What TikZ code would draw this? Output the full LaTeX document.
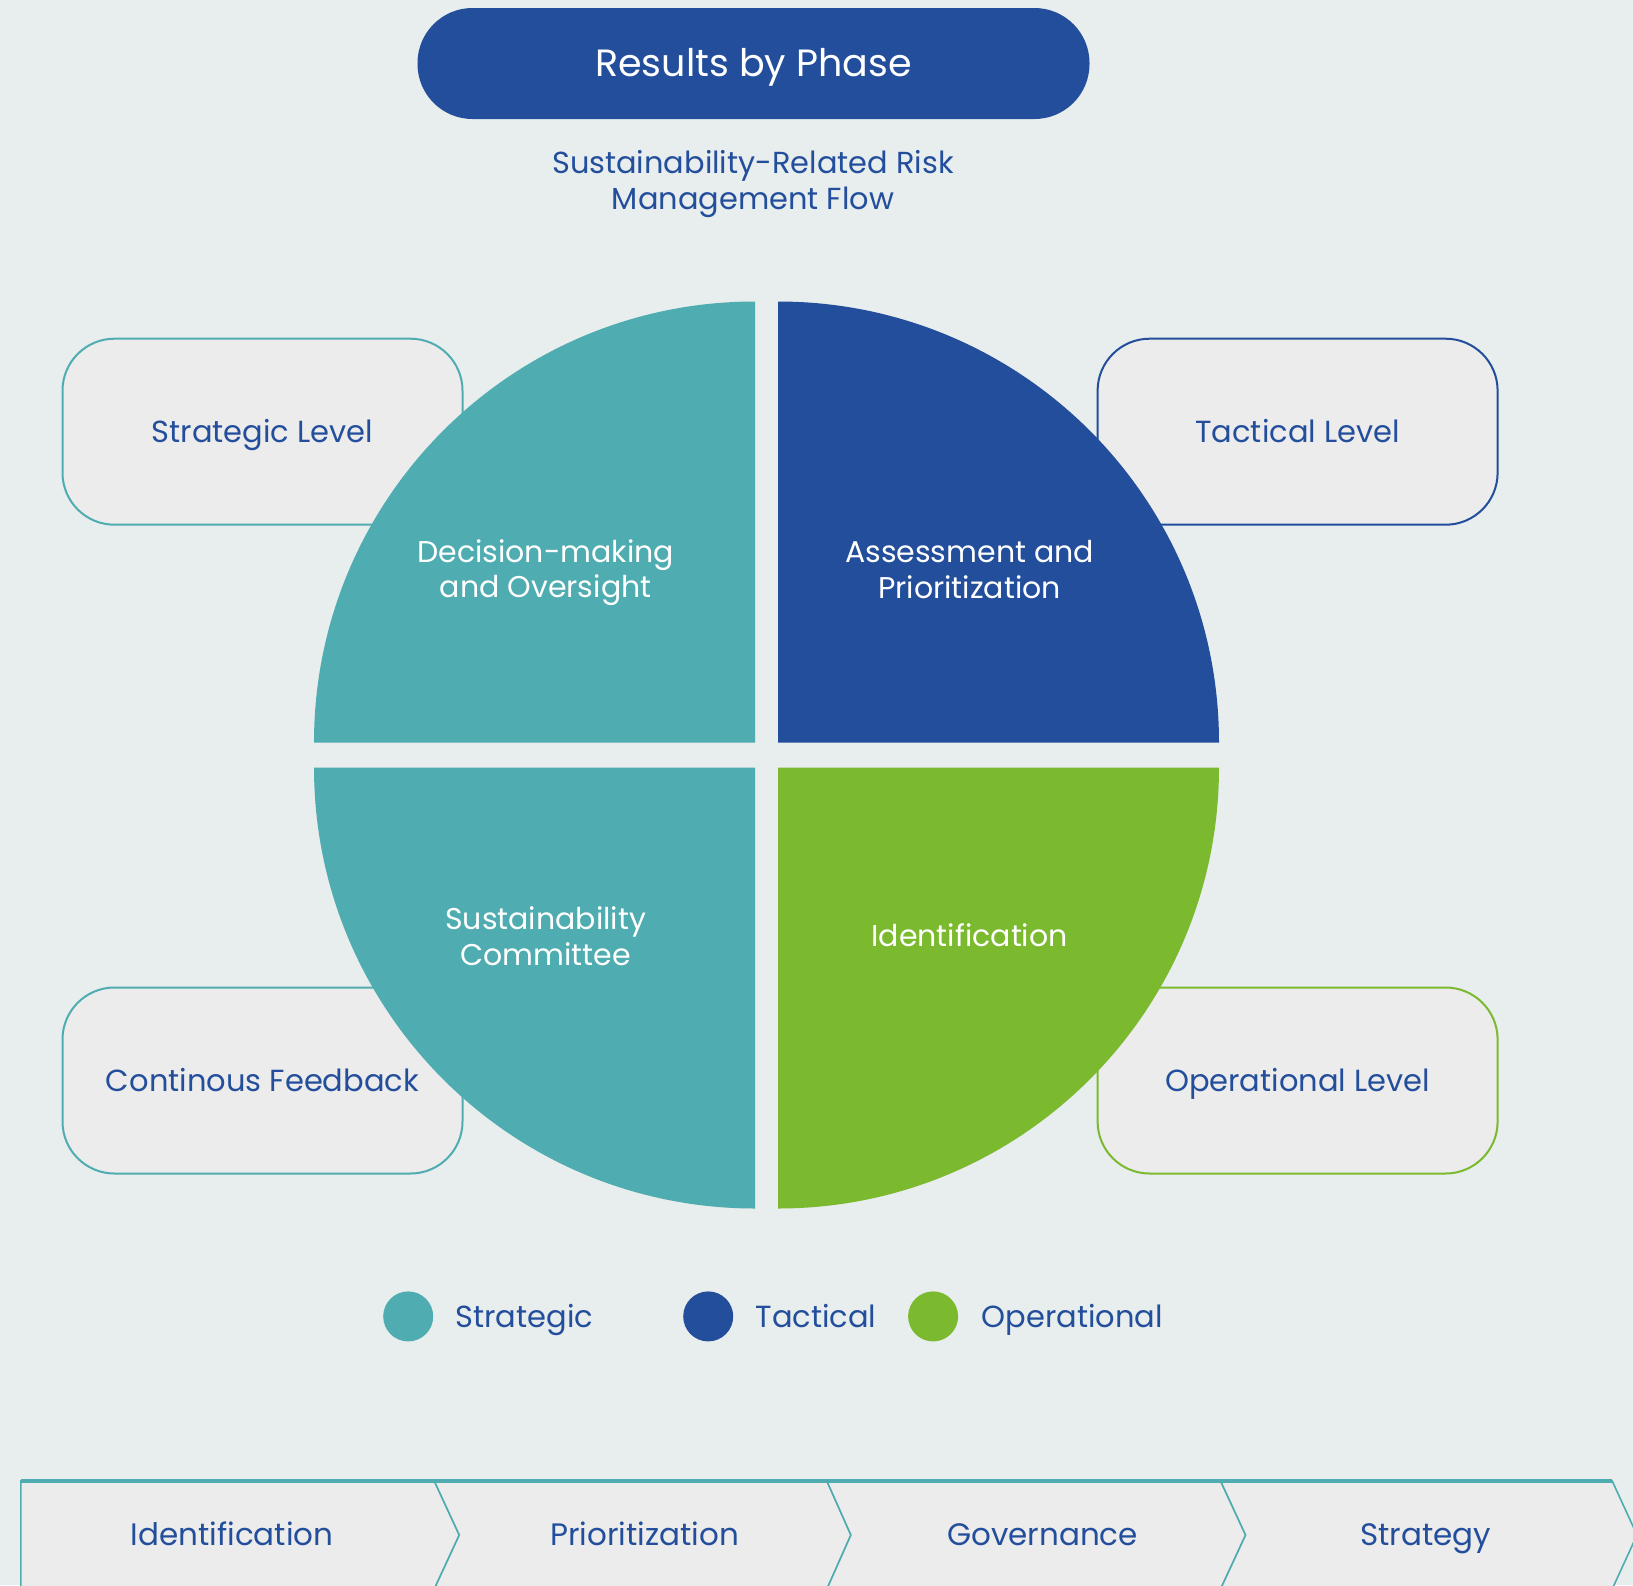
\documentclass[tikz,border=0pt]{standalone}
\usepackage{fontspec}
\setmainfont{Poppins}
\definecolor{bg}{HTML}{E8EDED}
\definecolor{boxfill}{HTML}{ECECEC}
\definecolor{cteal}{HTML}{4FACB0}
\definecolor{cnavy}{HTML}{234E9C}
\definecolor{cgreen}{HTML}{7BB92F}
\tikzset{
  levelbox/.style={draw, line width=2pt, fill=boxfill, rounded corners=52pt,
    minimum width=400pt, minimum height=186pt, text=cnavy, text height=21.3pt, text depth=0pt,
    font=\fontsize{30.5}{36}\selectfont},
  quadtext/.style={text=white, align=center, font=\fontsize{30}{35.5}\selectfont},
  legdot/.style={circle, minimum size=50pt, inner sep=0pt},
  legtext/.style={anchor=west, text=cnavy, text height=21.3pt, text depth=0pt,
    font=\fontsize{30.5}{36}\selectfont},
  chev/.style={draw=cteal, line width=1.6pt, fill=boxfill, line join=miter},
  chevtext/.style={text=cnavy, text height=21.6pt, text depth=0pt, font=\fontsize{31}{36}\selectfont}
}
\begin{document}
\begin{tikzpicture}[x=1pt,y=-1pt]
\fill[bg] (0,0) rectangle (1633,1585);
\useasboundingbox (0,0) rectangle (1633,1585);
% title
\node[fill=cnavy, rounded corners=55pt, minimum width=672pt, minimum height=111pt,
  text=white, text height=26.5pt, text depth=0pt, font=\fontsize{38}{44}\selectfont] (title) at (753.5,63.5) {Results by Phase};
\node[text=cnavy, align=center, font=\fontsize{30.4}{35.5}\selectfont] (sub) at (753,184)
  {Sustainability-Related Risk\\Management Flow};
% side boxes
\node[levelbox, draw=cteal] (sl) at (262.5,431.7) {Strategic Level};
\node[levelbox, draw=cnavy] (tl) at (1297.6,431.7) {Tactical Level};
\node[levelbox, draw=cteal] (cf) at (262.5,1080.5) {Continous Feedback};
\node[levelbox, draw=cgreen] (ol) at (1297.6,1080.5) {Operational Level};
% quadrants
\fill[cteal] (755,742.5) -- (314,742.5) arc[start angle=180,end angle=270,radius=441] -- cycle;
\fill[cnavy] (778,742.5) -- (778,301.5) arc[start angle=270,end angle=360,radius=441] -- cycle;
\fill[cgreen] (778,767.5) -- (1219,767.5) arc[start angle=0,end angle=90,radius=441] -- cycle;
\fill[cteal] (755,767.5) -- (755,1208.5) arc[start angle=90,end angle=180,radius=441] -- cycle;
\node[quadtext] (q1) at (545.7,572.5) {Decision-making\\and Oversight};
\node[quadtext] (q2) at (969.6,569.5) {Assessment and\\Prioritization};
\node[quadtext] (q3) at (545.7,936) {Sustainability\\Committee};
\node[quadtext, text height=21pt, text depth=0pt] (q4) at (969.6,936.3) {Identification};
% legend
\node[legdot, fill=cteal] (d1) at (408.2,1316.4) {};
\node[legtext] (l1) at (452,1316.4) {Strategic};
\node[legdot, fill=cnavy] (d2) at (708.2,1316.4) {};
\node[legtext] (l2) at (752,1316.4) {Tactical};
\node[legdot, fill=cgreen] (d3) at (933.1,1316.4) {};
\node[legtext] (l3) at (978,1316.4) {Operational};
% chevrons
\path[chev] (20.8,1481) -- (434.3,1481) -- (459.3,1535) -- (434.3,1589) -- (20.8,1589) -- cycle;
\path[chev] (434.3,1481) -- (826.9,1481) -- (850.9,1535) -- (826.9,1589) -- (434.3,1589) -- (459.3,1535) -- cycle;
\path[chev] (826.9,1481) -- (1220.6,1481) -- (1245.6,1535) -- (1220.6,1589) -- (826.9,1589) -- (850.9,1535) -- cycle;
\path[chev] (1220.6,1481) -- (1612.2,1481) -- (1637,1535) -- (1612.2,1589) -- (1220.6,1589) -- (1245.6,1535) -- cycle;
\draw[cteal, line width=3.5pt] (20.8,1481) -- (1612.2,1481);
\node[chevtext] (c1) at (232,1535) {Identification};
\node[chevtext] (c2) at (644.6,1535) {Prioritization};
\node[chevtext] (c3) at (1042.5,1535) {Governance};
\node[chevtext] (c4) at (1425.8,1535) {Strategy};
\end{tikzpicture}
\end{document}
